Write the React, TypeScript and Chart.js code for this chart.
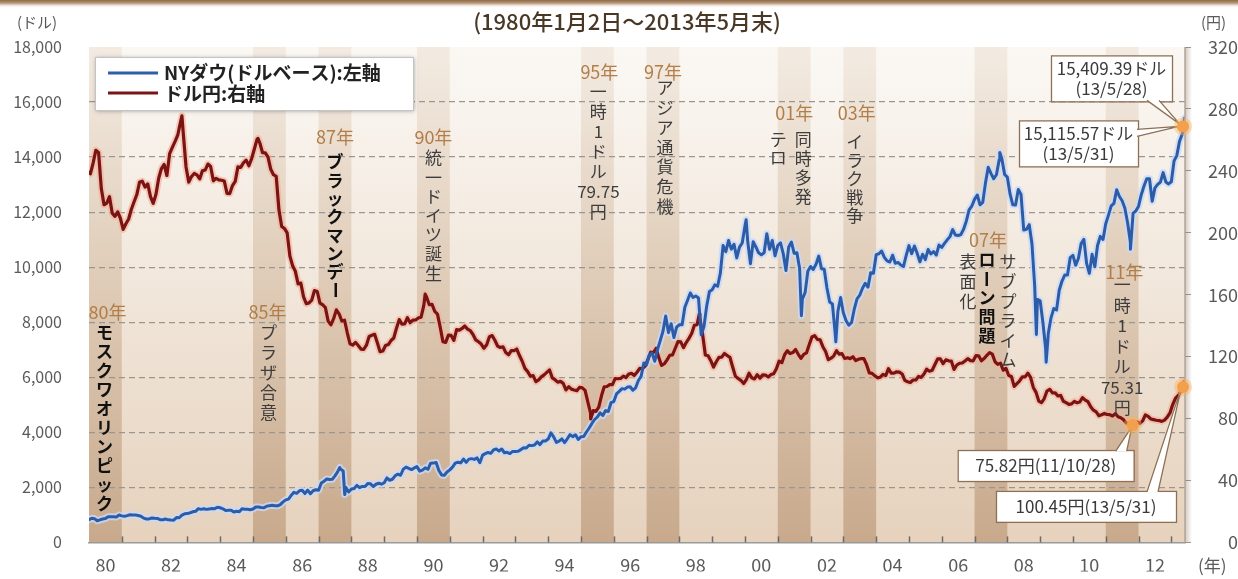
import React, { useEffect, useRef } from 'react';
import { Chart, registerables } from 'chart.js';

Chart.register(...registerables);

const FONT = '"Noto Sans CJK JP", "Noto Sans", sans-serif';
const START_YEAR = 1980;

// NY Dow (USD), month-end closes from 1980-01 to 2013-05
const dowMonthEnd = [
  875.85, 863.14, 785.75, 817.06, 850.85, 867.92, 935.32, 932.59, 932.42, 924.49, 993.34, 963.99,
  947.27, 974.58, 1003.87, 997.75, 991.75, 976.88, 952.34, 881.47, 849.98, 852.55, 888.98, 875.0,
  871.1, 824.39, 822.77, 848.36, 819.54, 811.93, 808.6, 901.31, 896.25, 991.72, 1039.28, 1046.54,
  1075.7, 1112.62, 1130.03, 1226.2, 1199.98, 1221.96, 1199.22, 1216.16, 1233.13, 1225.2, 1276.02, 1258.64,
  1220.58, 1154.63, 1164.89, 1170.75, 1104.85, 1132.4, 1115.28, 1224.38, 1206.71, 1207.38, 1188.94, 1211.57,
  1286.77, 1284.01, 1266.78, 1258.06, 1315.41, 1335.46, 1347.45, 1334.01, 1328.63, 1374.31, 1472.13, 1546.67,
  1570.99, 1709.06, 1818.61, 1783.98, 1876.71, 1892.72, 1775.31, 1898.34, 1767.58, 1877.81, 1914.23, 1895.95,
  2158.04, 2223.99, 2304.69, 2286.36, 2291.57, 2418.53, 2572.07, 2662.95, 2596.28, 1993.53, 1833.55, 1938.83,
  1958.22, 2071.62, 1988.06, 2032.33, 2031.12, 2141.71, 2128.73, 2031.65, 2112.91, 2148.65, 2114.51, 2168.57,
  2342.32, 2258.39, 2293.62, 2418.8, 2480.15, 2440.06, 2660.66, 2737.27, 2692.82, 2645.08, 2706.27, 2753.2,
  2590.54, 2627.25, 2707.21, 2656.76, 2876.66, 2880.69, 2905.2, 2614.36, 2452.48, 2442.33, 2559.65, 2633.66,
  2736.39, 2882.18, 2913.86, 2887.87, 3027.5, 2906.75, 3024.82, 3043.6, 3016.77, 3069.1, 2894.68, 3168.83,
  3223.4, 3267.67, 3235.47, 3359.12, 3396.88, 3318.52, 3393.78, 3257.35, 3271.66, 3226.28, 3305.16, 3301.11,
  3310.03, 3370.81, 3435.11, 3427.55, 3527.43, 3516.08, 3539.47, 3651.25, 3555.12, 3680.59, 3683.95, 3754.09,
  3978.36, 3832.02, 3635.96, 3681.69, 3758.37, 3624.96, 3764.5, 3913.42, 3843.19, 3908.12, 3739.23, 3834.44,
  3843.86, 4011.05, 4157.69, 4321.27, 4465.14, 4556.1, 4708.47, 4610.56, 4789.08, 4755.48, 5074.49, 5117.12,
  5395.3, 5485.62, 5587.14, 5569.08, 5643.18, 5654.63, 5528.91, 5616.21, 5882.17, 6029.38, 6521.7, 6448.27,
  6813.09, 6877.74, 6583.48, 7008.99, 7331.04, 7672.79, 8222.61, 7622.42, 7945.26, 7442.08, 7823.13, 7908.25,
  7906.5, 8545.72, 8799.81, 9063.37, 8899.95, 8952.02, 8883.29, 7539.07, 7842.62, 8592.1, 9116.55, 9181.43,
  9358.83, 9306.58, 9786.16, 10789.04, 10559.74, 10970.8, 10655.15, 10829.28, 10336.95, 10729.94, 10877.81, 11497.12,
  10940.53, 10128.31, 10921.92, 10733.91, 10522.33, 10447.89, 10521.98, 11215.1, 10650.92, 10971.14, 10414.49, 10786.85,
  10887.36, 10495.28, 9878.78, 10734.97, 10911.94, 10502.4, 10522.81, 9949.75, 8847.56, 9075.14, 9851.56, 10021.5,
  9920.0, 10106.13, 10403.94, 9946.22, 9925.25, 9243.26, 8736.59, 8663.5, 7591.93, 8397.03, 8896.09, 8341.63,
  8053.81, 7891.08, 7992.13, 8480.09, 8850.26, 8985.44, 9233.8, 9415.82, 9275.06, 9801.12, 9782.46, 10453.92,
  10488.07, 10583.92, 10357.7, 10225.57, 10188.45, 10435.48, 10139.71, 10173.92, 10080.27, 10027.47, 10428.02, 10783.01,
  10489.94, 10766.23, 10503.76, 10192.51, 10467.48, 10274.97, 10640.91, 10481.6, 10568.7, 10440.07, 10805.87, 10717.5,
  10864.86, 10993.41, 11109.32, 11367.14, 11168.31, 11150.22, 11185.68, 11381.15, 11679.07, 12080.73, 12221.93, 12463.15,
  12621.69, 12268.63, 12354.35, 13062.91, 13627.64, 13408.62, 13211.99, 13357.74, 13895.63, 13930.01, 13371.72, 13264.82,
  12650.36, 12266.39, 12262.89, 12820.13, 12638.32, 11350.01, 11378.02, 11543.55, 10850.66, 9325.01, 8829.04, 8776.39,
  8000.86, 7062.93, 7608.92, 8168.12, 8500.33, 8447.0, 9171.61, 9496.28, 9712.28, 9712.73, 10344.84, 10428.05,
  10067.33, 10325.26, 10856.63, 11008.61, 10136.63, 9774.02, 10465.94, 10014.72, 10788.05, 11118.49, 11006.02, 11577.51,
  11891.93, 12226.34, 12319.73, 12810.54, 12569.79, 12414.34, 12143.24, 11613.53, 10913.38, 11955.01, 12045.68, 12217.56,
  12632.91, 12952.07, 13212.04, 13213.63, 12393.45, 12880.09, 13008.68, 13090.84, 13437.13, 13096.46, 13025.58, 13104.14,
  13860.58, 14054.49, 14578.54, 14839.8, 15115.57,
];

// NY Dow notable days
const dowKeyDays: [string, number][] = [
  ['1980-01-02', 824.57],
  ['1987-08-25', 2722.42],
  ['1987-10-19', 1738.74],
  ['2000-01-14', 11722.98],
  ['2001-09-21', 8235.81],
  ['2002-10-09', 7286.27],
  ['2007-10-09', 14164.53],
  ['2008-11-20', 7552.29],
  ['2009-03-09', 6547.05],
  ['2011-10-03', 10655.3],
  ['2013-05-28', 15409.39],
];

// USD/JPY, monthly averages from 1980-01 to 2013-05
const usdJpyMonthly = [
  238.1, 245.0, 253.3, 251.9, 228.6, 218.1, 219.1, 223.3, 212.6, 210.6, 213.5, 209.3,
  202.2, 205.8, 208.9, 215.2, 220.0, 224.7, 232.8, 233.3, 229.5, 231.6, 223.4, 219.0,
  224.9, 235.2, 241.5, 244.1, 237.0, 251.1, 255.1, 259.0, 263.3, 271.6, 264.1, 242.5,
  232.7, 236.3, 238.3, 237.4, 234.8, 240.0, 240.5, 244.4, 242.8, 233.6, 235.2, 234.2,
  233.9, 233.4, 225.5, 225.3, 230.5, 233.2, 242.6, 242.2, 245.1, 246.9, 243.3, 247.9,
  254.1, 260.5, 258.0, 251.7, 251.6, 248.9, 241.0, 237.5, 236.5, 214.7, 204.1, 202.8,
  199.9, 184.9, 178.7, 175.1, 167.0, 167.5, 158.6, 154.2, 154.7, 156.5, 162.7, 162.1,
  154.5, 153.5, 151.6, 142.9, 140.5, 144.5, 150.2, 147.6, 143.0, 143.5, 135.4, 128.3,
  127.4, 129.2, 127.2, 124.9, 124.7, 127.4, 133.0, 133.8, 134.4, 128.9, 123.2, 123.6,
  127.2, 127.8, 130.4, 132.0, 138.4, 143.9, 141.0, 141.1, 145.1, 141.9, 143.6, 143.7,
  145.0, 145.5, 153.1, 158.5, 153.5, 153.8, 149.2, 147.5, 139.0, 129.7, 129.2, 133.9,
  133.7, 130.5, 137.4, 137.1, 138.2, 139.8, 137.8, 136.8, 134.3, 130.8, 129.6, 128.1,
  125.4, 127.7, 132.9, 133.6, 130.6, 126.8, 125.9, 126.3, 122.6, 121.2, 123.9, 123.9,
  124.9, 120.7, 117.0, 112.4, 110.3, 107.3, 107.7, 103.8, 105.0, 106.9, 108.2, 109.8,
  111.4, 106.3, 105.1, 103.5, 104.0, 102.7, 98.5, 100.6, 99.0, 98.4, 98.0, 100.2,
  99.8, 98.2, 90.8, 83.5, 85.1, 84.6, 87.4, 94.7, 100.5, 100.7, 101.9, 101.9,
  105.8, 105.7, 105.9, 107.4, 106.5, 108.8, 109.2, 107.9, 109.9, 112.4, 112.3, 113.9,
  118.2, 122.9, 122.6, 125.4, 119.2, 114.3, 115.4, 117.9, 120.9, 121.1, 125.4, 129.7,
  129.5, 125.8, 129.1, 131.8, 134.9, 140.3, 140.7, 144.7, 134.5, 121.1, 120.6, 117.4,
  113.2, 116.7, 119.5, 119.7, 122.0, 120.7, 119.6, 113.3, 107.4, 105.9, 104.7, 102.6,
  105.2, 109.3, 106.3, 105.6, 108.3, 106.1, 108.2, 108.1, 106.8, 108.4, 109.0, 112.2,
  117.1, 116.1, 121.2, 123.8, 122.0, 122.6, 124.6, 121.5, 118.9, 121.5, 122.4, 127.6,
  132.7, 133.6, 131.1, 130.8, 126.4, 123.3, 118.0, 119.0, 120.5, 123.8, 121.6, 121.9,
  118.8, 119.3, 118.7, 119.9, 117.4, 118.3, 118.7, 118.7, 114.8, 109.5, 109.2, 107.7,
  106.3, 106.7, 108.5, 107.7, 112.2, 109.4, 109.3, 110.2, 110.0, 108.8, 104.7, 103.8,
  103.3, 104.9, 104.9, 107.2, 106.6, 108.8, 111.9, 110.6, 111.2, 114.9, 118.5, 118.5,
  115.5, 117.9, 117.3, 117.1, 111.7, 114.6, 115.7, 115.9, 117.2, 118.7, 117.4, 117.3,
  120.6, 120.5, 117.3, 118.8, 120.8, 122.6, 121.6, 116.7, 115.0, 115.8, 111.2, 112.4,
  107.8, 107.1, 100.8, 102.6, 104.4, 106.9, 106.9, 109.3, 106.6, 100.1, 96.9, 91.3,
  90.3, 92.9, 97.8, 98.9, 96.6, 96.6, 94.6, 94.9, 91.2, 90.3, 89.2, 89.5,
  91.1, 90.2, 90.7, 93.5, 91.9, 90.9, 87.6, 85.4, 84.3, 81.8, 82.5, 83.3,
  82.6, 82.5, 81.7, 83.2, 81.2, 80.5, 79.3, 77.1, 76.8, 76.7, 77.5, 77.8,
  76.9, 78.5, 82.4, 81.4, 79.7, 79.3, 78.9, 78.7, 78.2, 79.0, 80.9, 83.6,
  89.0, 93.1, 94.9, 97.7, 101.0,
];

// USD/JPY notable days
const usdJpyKeyDays: [string, number][] = [
  ['1980-01-02', 239.0],
  ['1982-11-01', 275.5],
  ['1985-02-25', 261.0],
  ['1990-04-02', 160.35],
  ['1995-04-19', 79.75],
  ['1998-08-11', 147.64],
  ['2011-10-28', 75.82],
  ['2013-05-22', 103.74],
  ['2013-05-31', 100.45],
];

const xMin = 1980;
const xMaxDate = '2013-06-02';
const yearTickLabels = ['80', '82', '84', '86', '88', '90', '92', '94', '96', '98', '00', '02', '04', '06', '08', '10', '12'];
const leftTicks = [0, 2000, 4000, 6000, 8000, 10000, 12000, 14000, 16000, 18000];
const rightTicks = [0, 40, 80, 120, 160, 200, 240, 280, 320];
const eventYears = [1980, 1985, 1987, 1990, 1995, 1997, 2001, 2003, 2007, 2011];

const TITLE = '(1980年1月2日〜2013年5月末)';
const LEGEND_DOW = 'NYダウ(ドルベース):左軸';
const LEGEND_JPY = 'ドル円:右軸';

type Col = { dx: number; top: number; step: number; text?: string; tokens?: string[]; bold?: boolean };
type Note = { year: number; tag: string; tagDx: number; tagTop: number; cols: Col[] };

// text annotations: tagTop/top are offsets from the top of the plot area
const eventNotes: Note[] = [
  { year: 1980, tag: '80年', tagDx: 2, tagTop: 265, cols: [{ dx: -1, top: 286, step: 18.9, text: 'モスクワオリンピック', bold: true }] },
  { year: 1985, tag: '85年', tagDx: -2, tagTop: 265, cols: [{ dx: -1, top: 286, step: 20, text: 'プラザ合意' }] },
  { year: 1987, tag: '87年', tagDx: 0, tagTop: 90, cols: [{ dx: 0, top: 115, step: 18.3, text: 'ブラックマンデー', bold: true }] },
  { year: 1990, tag: '90年', tagDx: 0, tagTop: 90, cols: [{ dx: 0, top: 111, step: 19.2, text: '統一ドイツ誕生' }] },
  { year: 1995, tag: '95年', tagDx: 2, tagTop: 25, cols: [{ dx: 1, top: 45, step: 20, tokens: ['一', '時', '1', 'ド', 'ル', '79.75', '円'] }] },
  { year: 1997, tag: '97年', tagDx: 0, tagTop: 25, cols: [{ dx: 2, top: 41, step: 19.7, text: 'アジア通貨危機' }] },
  { year: 2001, tag: '01年', tagDx: 0, tagTop: 66, cols: [
    { dx: 9, top: 93, step: 19, text: '同時多発' },
    { dx: -16, top: 93, step: 18, text: 'テロ' },
  ] },
  { year: 2003, tag: '03年', tagDx: -3, tagTop: 66, cols: [{ dx: -5, top: 95, step: 18.5, text: 'イラク戦争' }] },
  { year: 2007, tag: '07年', tagDx: -3, tagTop: 193, cols: [
    { dx: 17, top: 215, step: 19.6, text: 'サブプライム' },
    { dx: -4, top: 213, step: 19, text: 'ローン問題', bold: true },
    { dx: -23, top: 215, step: 20, text: '表面化' },
  ] },
  { year: 2011, tag: '11年', tagDx: 2, tagTop: 225, cols: [{ dx: 0, top: 238, step: 20.5, tokens: ['一', '時', '1', 'ド', 'ル', '75.31', '円'] }] },
];

function toYear(date: string): number {
  const [y, m, d] = date.split('-').map(Number);
  const t = Date.UTC(y, m - 1, d);
  const s = Date.UTC(y, 0, 1);
  const e = Date.UTC(y + 1, 0, 1);
  return y + (t - s) / (e - s);
}

function buildSeries(monthly: number[], offset: number, keyDays: [string, number][]) {
  const pts = monthly.map((v, i) => ({ x: START_YEAR + (i + offset) / 12, y: v }));
  keyDays.forEach(([d, v]) => pts.push({ x: toYear(d), y: v }));
  pts.sort((a, b) => a.x - b.x);
  return pts;
}

const dowPoints = buildSeries(dowMonthEnd, 1, dowKeyDays);
const jpyPoints = buildSeries(usdJpyMonthly, 0.5, usdJpyKeyDays);

function drawColumn(ctx: CanvasRenderingContext2D, tokens: string[], cx: number, top: number, step: number) {
  tokens.forEach((t, i) => {
    const cy = top + i * step;
    if (t === 'ー') {
      ctx.save();
      ctx.translate(cx, cy);
      ctx.rotate(Math.PI / 2);
      ctx.fillText(t, 0, 0);
      ctx.restore();
    } else {
      ctx.fillText(t, cx, cy);
    }
  });
}

function drawCallout(
  ctx: CanvasRenderingContext2D,
  box: { x: number; y: number; w: number; h: number },
  lines: string[],
  base: [number, number][],
  tip: [number, number],
) {
  ctx.save();
  ctx.fillStyle = '#ffffff';
  ctx.strokeStyle = '#8e7054';
  ctx.lineWidth = 1.3;
  ctx.fillRect(box.x, box.y, box.w, box.h);
  ctx.strokeRect(box.x + 0.5, box.y + 0.5, box.w, box.h);
  ctx.beginPath();
  ctx.moveTo(base[0][0], base[0][1]);
  ctx.lineTo(tip[0], tip[1]);
  ctx.lineTo(base[1][0], base[1][1]);
  ctx.closePath();
  ctx.fill();
  ctx.beginPath();
  ctx.moveTo(base[0][0], base[0][1]);
  ctx.lineTo(tip[0], tip[1]);
  ctx.lineTo(base[1][0], base[1][1]);
  ctx.stroke();
  ctx.fillStyle = '#3a3a3a';
  ctx.font = `17px ${FONT}`;
  ctx.textAlign = 'center';
  ctx.textBaseline = 'middle';
  const lh = lines.length > 1 ? 20 : 0;
  const cy0 = box.y + box.h / 2 - (lh * (lines.length - 1)) / 2;
  lines.forEach((l, i) => ctx.fillText(l, box.x + box.w / 2, cy0 + i * lh));
  ctx.restore();
}

function drawDot(ctx: CanvasRenderingContext2D, x: number, y: number) {
  ctx.save();
  ctx.fillStyle = 'rgba(248,180,100,0.45)';
  ctx.beginPath();
  ctx.arc(x, y, 9, 0, Math.PI * 2);
  ctx.fill();
  ctx.fillStyle = '#f3a04c';
  ctx.beginPath();
  ctx.arc(x, y, 6, 0, Math.PI * 2);
  ctx.fill();
  ctx.restore();
}

const decorPlugin = {
  id: 'decor',
  beforeDraw(chart: any) {
    const { ctx, chartArea: a, scales } = chart;
    const xs = scales.x;
    ctx.save();
    // top stripe
    const tg = ctx.createLinearGradient(0, 0, 0, 8);
    tg.addColorStop(0, '#8d6a47');
    tg.addColorStop(0.4, '#b8987a');
    tg.addColorStop(1, 'rgba(255,255,255,0)');
    ctx.fillStyle = tg;
    ctx.fillRect(0, 0, chart.width, 8);
    // plot background
    const g = ctx.createLinearGradient(0, a.top, 0, a.bottom);
    g.addColorStop(0, '#fbf8f4');
    g.addColorStop(0.5, '#f1e6da');
    g.addColorStop(1, '#e6d2bd');
    ctx.fillStyle = g;
    ctx.fillRect(a.left, a.top, a.right - a.left, a.bottom - a.top);
    // event bands
    const gb = ctx.createLinearGradient(0, a.top, 0, a.bottom);
    gb.addColorStop(0, '#f3ebe2');
    gb.addColorStop(0.45, '#e0cdb9');
    gb.addColorStop(1, '#c8a98c');
    ctx.fillStyle = gb;
    eventYears.forEach((yr) => {
      const x0 = xs.getPixelForValue(yr);
      const x1 = Math.min(xs.getPixelForValue(yr + 1), a.right);
      ctx.fillRect(x0, a.top, x1 - x0, a.bottom - a.top);
    });
    ctx.restore();
  },
  afterDatasetsDraw(chart: any) {
    const { ctx, chartArea: a, scales } = chart;
    const xs = scales.x;
    const yl = scales.y;
    const yr = scales.y1;
    ctx.save();
    // year tick marks (inside)
    ctx.strokeStyle = '#6b6b6b';
    ctx.lineWidth = 1.5;
    for (let y = 1981; y <= 2013; y++) {
      const px = Math.round(xs.getPixelForValue(y)) + 0.5;
      ctx.beginPath();
      ctx.moveTo(px, a.bottom);
      ctx.lineTo(px, a.bottom - 6);
      ctx.stroke();
    }
    // right border with soft shadow
    const sg = ctx.createLinearGradient(a.right, 0, a.right + 7, 0);
    sg.addColorStop(0, 'rgba(120,100,80,0.35)');
    sg.addColorStop(1, 'rgba(120,100,80,0)');
    ctx.fillStyle = sg;
    ctx.fillRect(a.right, a.top, 7, a.bottom - a.top);
    ctx.strokeStyle = '#b3a594';
    ctx.lineWidth = 1.5;
    ctx.beginPath();
    ctx.moveTo(a.right, a.top);
    ctx.lineTo(a.right, a.bottom);
    ctx.stroke();

    // event annotations
    eventNotes.forEach((n) => {
      const cx = xs.getPixelForValue(n.year + 0.5);
      ctx.textAlign = 'center';
      ctx.textBaseline = 'middle';
      ctx.font = `18px ${FONT}`;
      ctx.fillStyle = '#b27d47';
      ctx.fillText(n.tag, cx + n.tagDx, a.top + n.tagTop);
      n.cols.forEach((c) => {
        ctx.font = c.bold ? `bold 17px ${FONT}` : `17px ${FONT}`;
        ctx.fillStyle = c.bold ? '#111111' : '#3d3d3d';
        const tokens = c.tokens || Array.from(c.text || '');
        drawColumn(ctx, tokens, cx + c.dx, a.top + c.top, c.step);
      });
    });

    // callouts and dots
    const endX = xs.getPixelForValue(toYear('2013-05-31'));
    const dowY = yl.getPixelForValue(dowMonthEnd[dowMonthEnd.length - 1]);
    const lowX = xs.getPixelForValue(toYear('2011-10-28'));
    const lowY = yr.getPixelForValue(usdJpyKeyDays[6][1]);
    const endJY = yr.getPixelForValue(usdJpyKeyDays[8][1]);
    const dx = Math.min(endX, a.right - 2);

    drawCallout(ctx, { x: dx - 132, y: dowY - 71, w: 121, h: 46 }, ['15,409.39ドル', '(13/5/28)'],
      [[dx - 36, dowY - 26], [dx - 24, dowY - 26]], [dx - 3, dowY - 2]);
    drawCallout(ctx, { x: dx - 164, y: dowY - 6, w: 119, h: 46 }, ['15,115.57ドル', '(13/5/31)'],
      [[dx - 46, dowY + 3], [dx - 46, dowY + 10]], [dx - 4, dowY]);
    drawCallout(ctx, { x: lowX - 175, y: lowY + 25, w: 176, h: 31 }, ['75.82円(11/10/28)'],
      [[lowX - 17, lowY + 26], [lowX - 6, lowY + 26]], [lowX - 1, lowY + 2]);
    drawCallout(ctx, { x: dx - 187, y: endJY + 104, w: 180, h: 31 }, ['100.45円(13/5/31)'],
      [[dx - 36, endJY + 105], [dx - 25, endJY + 105]], [dx - 2, endJY + 2]);

    drawDot(ctx, dx, dowY);
    drawDot(ctx, lowX, lowY);
    drawDot(ctx, dx, endJY);

    // legend
    const lx = a.left + 6;
    const ly = a.top + 10;
    ctx.save();
    ctx.shadowColor = 'rgba(0,0,0,0.35)';
    ctx.shadowBlur = 4;
    ctx.shadowOffsetX = 1;
    ctx.shadowOffsetY = 1;
    ctx.fillStyle = '#ffffff';
    ctx.fillRect(lx, ly, 318, 53);
    ctx.restore();
    ctx.strokeStyle = '#c4c4c4';
    ctx.lineWidth = 1;
    ctx.strokeRect(lx + 0.5, ly + 0.5, 318, 53);
    ctx.lineWidth = 3;
    ctx.strokeStyle = '#2f5fa9';
    ctx.beginPath();
    ctx.moveTo(lx + 13, ly + 16);
    ctx.lineTo(lx + 63, ly + 16);
    ctx.stroke();
    ctx.strokeStyle = '#7a1515';
    ctx.beginPath();
    ctx.moveTo(lx + 13, ly + 36);
    ctx.lineTo(lx + 63, ly + 36);
    ctx.stroke();
    ctx.fillStyle = '#222222';
    ctx.font = `bold 19px ${FONT}`;
    ctx.textAlign = 'left';
    ctx.textBaseline = 'middle';
    ctx.fillText(LEGEND_DOW, lx + 69, ly + 16);
    ctx.fillText(LEGEND_JPY, lx + 69, ly + 37);
    ctx.restore();
  },
  afterDraw(chart: any) {
    const { ctx, chartArea: a } = chart;
    ctx.save();
    ctx.textBaseline = 'middle';
    ctx.fillStyle = '#4a3826';
    ctx.font = `500 22px ${FONT}`;
    ctx.textAlign = 'center';
    ctx.fillText(TITLE, 627, 22);
    ctx.fillStyle = '#5a5a5a';
    ctx.font = `15px ${FONT}`;
    ctx.textAlign = 'left';
    ctx.fillText('(ドル)', 17, 22);
    ctx.fillText('(円)', a.right + 16, 22);
    ctx.font = `17px ${FONT}`;
    ctx.fillText('(年)', a.right + 13, 566);
    ctx.restore();
  },
};

export default function App() {
  const ref = useRef<HTMLCanvasElement | null>(null);
  useEffect(() => {
    document.body.style.margin = '0';
    document.body.style.background = '#ffffff';
    if (!ref.current) return;
    const lineBase = { pointRadius: 0, tension: 0, borderJoinStyle: 'round', borderCapStyle: 'round' };
    const chart = new Chart(ref.current, {
      type: 'line',
      data: {
        datasets: [
          { ...lineBase, label: LEGEND_DOW, data: dowPoints, yAxisID: 'y', borderColor: '#2c5ca8', borderWidth: 3, order: 0 },
          { ...lineBase, label: LEGEND_JPY, data: jpyPoints, yAxisID: 'y1', borderColor: '#7a1414', borderWidth: 3.2, order: 1 },
          { ...lineBase, label: 'halo1', data: dowPoints, yAxisID: 'y', borderColor: 'rgba(200,218,248,0.8)', borderWidth: 7, order: 2 },
          { ...lineBase, label: 'halo2', data: jpyPoints, yAxisID: 'y1', borderColor: 'rgba(245,175,150,0.6)', borderWidth: 7, order: 3 },
        ] as any,
      },
      options: {
        animation: false,
        responsive: true,
        maintainAspectRatio: false,
        events: [],
        layout: { padding: { top: 47, left: 0, right: 0, bottom: 0 } },
        plugins: { legend: { display: false }, tooltip: { enabled: false }, title: { display: false } },
        scales: {
          x: {
            type: 'linear',
            min: xMin,
            max: toYear(xMaxDate),
            position: 'bottom',
            grid: { display: false, drawTicks: false },
            border: { display: true, color: '#9a9a9a', width: 1.5 },
            afterBuildTicks: (axis: any) => {
              axis.ticks = yearTickLabels.map((_, i) => ({ value: xMin + 0.5 + i * 2 }));
            },
            afterFit: (s: any) => { s.height = 29; },
            ticks: {
              autoSkip: false,
              maxRotation: 0,
              padding: 12,
              color: '#5a5a5a',
              font: { family: FONT, size: 18 },
              callback: (_v: any, i: number) => yearTickLabels[i],
            },
          },
          y: {
            type: 'linear',
            position: 'left',
            min: 0,
            max: 18000,
            afterBuildTicks: (axis: any) => { axis.ticks = leftTicks.map((v) => ({ value: v })); },
            afterFit: (s: any) => { s.width = 89; },
            grid: {
              drawTicks: false,
              lineWidth: 1.2,
              color: (c: any) => (c.tick && (c.tick.value === 0 || c.tick.value === 18000) ? 'rgba(0,0,0,0)' : '#9c9690'),
            },
            border: { display: false, dash: [6, 4] },
            ticks: {
              padding: 27,
              color: '#5a5a5a',
              font: { family: FONT, size: 16 },
              callback: (v: any) => Number(v).toLocaleString('en-US'),
            },
          },
          y1: {
            type: 'linear',
            position: 'right',
            min: 0,
            max: 320,
            afterBuildTicks: (axis: any) => { axis.ticks = rightTicks.map((v) => ({ value: v })); },
            afterFit: (s: any) => { s.width = 53; },
            grid: { drawOnChartArea: false, drawTicks: true, tickLength: 6, color: '#a09a94', tickColor: '#a09a94' },
            border: { display: false },
            ticks: {
              padding: 8,
              crossAlign: 'far',
              color: '#5a5a5a',
              font: { family: FONT, size: 18 },
            },
          },
        },
      } as any,
      plugins: [decorPlugin],
    });
    return () => chart.destroy();
  }, []);
  return (
    <div style={{ width: 1238, height: 579, position: 'relative', background: '#ffffff' }}>
      <canvas ref={ref} />
    </div>
  );
}
